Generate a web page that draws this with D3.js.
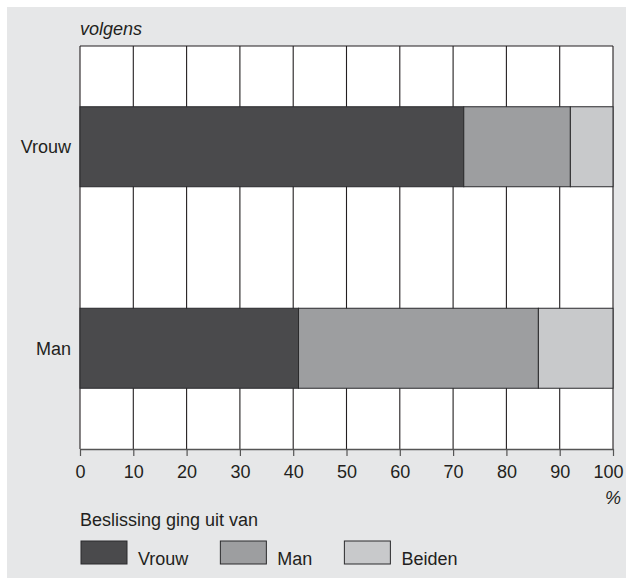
<!DOCTYPE html>
<html>
<head>
<meta charset="utf-8">
<script src="https://cdn.jsdelivr.net/npm/d3@7"></script>
<style>
  body { margin: 0; background: #fff; }
  svg { display: block; font-family: "Liberation Sans", Arial, Helvetica, sans-serif; }
</style>
</head>
<body>
<svg id="chart"></svg>
<script>
// rows of the chart (who answered)
const categories = ["Vrouw", "Man"];
// who made the decision, in stacking order
const seriesNames = ["Vrouw", "Man", "Beiden"];
// percentages per row, same order as categories
const vrouwValues = [72, 41];
const manValues = [20, 45];
const beidenValues = [8, 14];
const xTicks = [0, 10, 20, 30, 40, 50, 60, 70, 80, 90, 100];
const subtitle = "volgens";
const unitLabel = "%";
const legendTitle = "Beslissing ging uit van";

const colors = ["#4a4a4c", "#9d9ea0", "#c8c9cb"];

const config = {
  width: 626,
  height: 578,
  margin: { top: 46, right: 13, bottom: 129, left: 80 },
  fontSize: "18px"
};

const rows = categories.map((c, i) => ({
  category: c,
  Vrouw: vrouwValues[i],
  Man: manValues[i],
  Beiden: beidenValues[i]
}));

const svg = d3.select("#chart")
    .attr("width", config.width)
    .attr("height", config.height);

// grey panel behind everything
svg.append("rect")
    .attr("x", 7)
    .attr("y", 7)
    .attr("width", config.width - 7)
    .attr("height", config.height - 7)
    .attr("fill", "#e6e7e8");

const innerW = config.width - config.margin.left - config.margin.right;
const innerH = config.height - config.margin.top - config.margin.bottom;

const chart = svg.append("g")
    .attr("transform", `translate(${config.margin.left},${config.margin.top})`);

const xScale = d3.scaleLinear()
    .domain([0, 100])
    .range([0, innerW]);

const yScale = d3.scalePoint()
    .domain(categories)
    .range([0, innerH])
    .padding(0.5);

const barH = yScale.step() * 0.397;

chart.append("rect")
    .attr("width", innerW)
    .attr("height", innerH)
    .attr("fill", "#fff");

// vertical grid lines
chart.selectAll(".grid")
  .data(xTicks)
  .join("line")
    .attr("class", "grid")
    .attr("x1", d => xScale(d))
    .attr("x2", d => xScale(d))
    .attr("y1", 0)
    .attr("y2", innerH)
    .attr("stroke", "#231f20")
    .attr("stroke-width", 1.1);

chart.append("line")
    .attr("x1", 0).attr("x2", innerW)
    .attr("y1", 0).attr("y2", 0)
    .attr("stroke", "#231f20")
    .attr("stroke-width", 1.1);

// stacked bars
const stacked = d3.stack().keys(seriesNames)(rows);

chart.selectAll(".layer")
  .data(stacked)
  .join("g")
    .attr("class", "layer")
    .attr("fill", (d, i) => colors[i])
  .selectAll("rect")
  .data(d => d)
  .join("rect")
    .attr("x", d => xScale(d[0]))
    .attr("width", d => xScale(d[1]) - xScale(d[0]))
    .attr("y", d => yScale(d.data.category) - barH / 2)
    .attr("height", barH)
    .attr("stroke", "#2a2a2c")
    .attr("stroke-width", 1);

// x axis
const xAxis = d3.axisBottom(xScale)
    .tickValues(xTicks)
    .tickSize(7)
    .tickSizeOuter(0)
    .tickPadding(9);

const xAxisG = chart.append("g")
    .attr("transform", `translate(0,${innerH})`)
    .call(xAxis);

xAxisG.select(".domain").attr("stroke", "#555").attr("stroke-width", 1.5);
xAxisG.selectAll(".tick line").attr("stroke", "#555").attr("stroke-width", 1.2);
xAxisG.selectAll(".tick text")
    .attr("fill", "#231f20")
    .style("font-size", config.fontSize)
    .attr("dx", d => d === 100 ? -5 : 0);

// category labels
chart.selectAll(".cat")
  .data(categories)
  .join("text")
    .attr("class", "cat")
    .attr("x", -9)
    .attr("y", d => yScale(d))
    .attr("dy", "0.35em")
    .attr("text-anchor", "end")
    .attr("fill", "#231f20")
    .style("font-size", config.fontSize)
    .text(d => d);

svg.append("text")
    .attr("x", config.margin.left)
    .attr("y", 35)
    .attr("fill", "#231f20")
    .style("font-size", config.fontSize)
    .style("font-style", "italic")
    .text(subtitle);

svg.append("text")
    .attr("x", 621)
    .attr("y", 504)
    .attr("text-anchor", "end")
    .attr("fill", "#231f20")
    .style("font-size", config.fontSize)
    .style("font-style", "italic")
    .text(unitLabel);

// legend
svg.append("text")
    .attr("x", config.margin.left)
    .attr("y", 526)
    .attr("fill", "#231f20")
    .style("font-size", config.fontSize)
    .text(legendTitle);

let legX = config.margin.left + 1;
seriesNames.forEach((name, i) => {
  const g = svg.append("g").attr("transform", `translate(${legX},541)`);
  g.append("rect")
      .attr("width", 46)
      .attr("height", 23)
      .attr("fill", colors[i])
      .attr("stroke", "#2a2a2c")
      .attr("stroke-width", 1);
  const t = g.append("text")
      .attr("x", 57)
      .attr("y", 24)
      .attr("fill", "#231f20")
      .style("font-size", config.fontSize)
      .text(name);
  legX += 57 + t.node().getComputedTextLength() + 32;
});
</script>
</body>
</html>
